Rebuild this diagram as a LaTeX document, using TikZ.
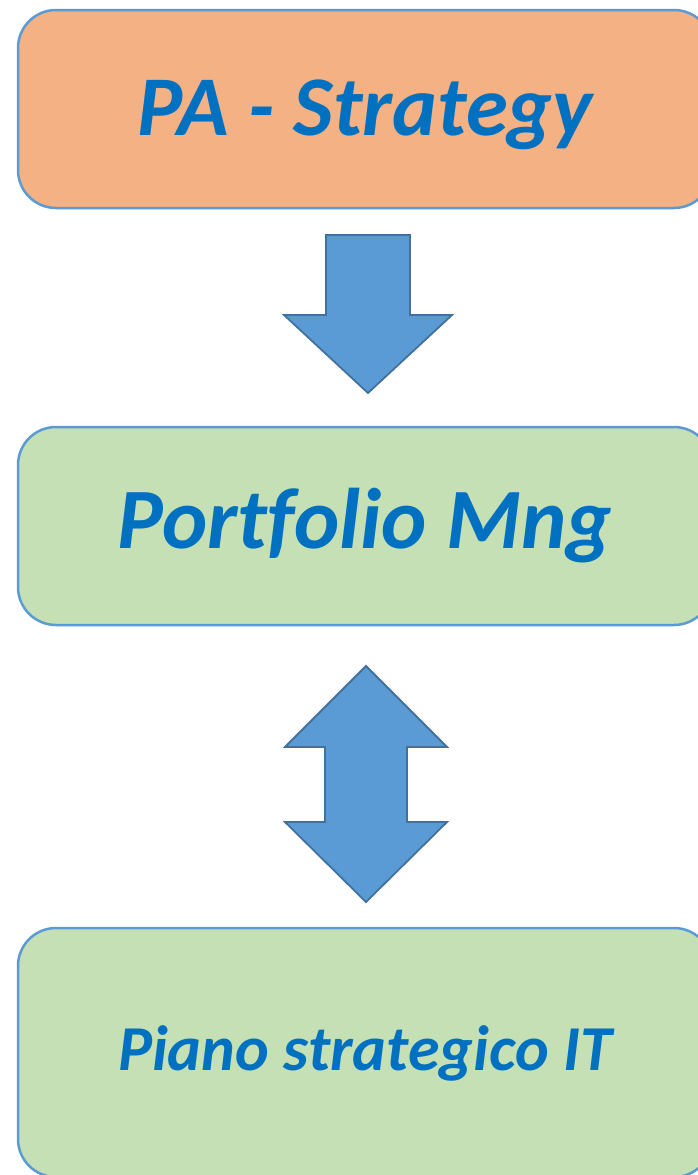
\documentclass[tikz,border=0pt]{standalone}
\usepackage{fontspec}
\setmainfont{Carlito}[Ligatures=CommonOff]
\usepackage{xcolor}
\usetikzlibrary{positioning}

\definecolor{boxline}{HTML}{5B9BD5}
\definecolor{titleblue}{HTML}{0070C0}
\definecolor{orangefill}{HTML}{F4B183}
\definecolor{greenfill}{HTML}{C5E0B4}
\definecolor{arrowfill}{HTML}{5B9BD5}
\definecolor{arrowline}{HTML}{41719C}

\begin{document}
\begin{tikzpicture}[x=1pt, y=-1pt, node distance=216.5pt]
    \tikzstyle{stage} = [rectangle, draw=boxline, line width=2.5pt, rounded corners=38pt, minimum width=694pt, text=titleblue, text depth=0pt, inner sep=0pt]
    \tikzstyle{blockarrow} = [draw=arrowline, fill=arrowfill, line width=1.8pt, line join=miter]
    \useasboundingbox (0,0) rectangle (697,1175);

    % Stages
    \node [stage, fill=orangefill, minimum height=198pt, text height=52pt, font=\fontsize{85}{90}\selectfont\bfseries\itshape] (strategy) at (365,109) {PA - Strategy};
    \node [stage, fill=greenfill, minimum height=198pt, text height=44pt, below=216.5pt of strategy, font=\fontsize{86}{92}\selectfont\bfseries\itshape] (portfolio) {Portfolio Mng};
    \node [stage, fill=greenfill, minimum height=249pt, text height=35pt, below=300.5pt of portfolio, font=\fontsize{64}{68}\selectfont\bfseries\itshape] (plan) {Piano strategico IT};

    % Arrows
    \draw [blockarrow] (326,235) -- (410,235) -- (410,315) -- (452,315) -- (368,393) -- (284,315) -- (326,315) -- cycle;
    \draw [blockarrow] (366,666) -- (447,747) -- (407,747) -- (407,822) -- (447,822) -- (366,902) -- (285,822) -- (325,822) -- (325,747) -- (285,747) -- cycle;
\end{tikzpicture}
\end{document}
